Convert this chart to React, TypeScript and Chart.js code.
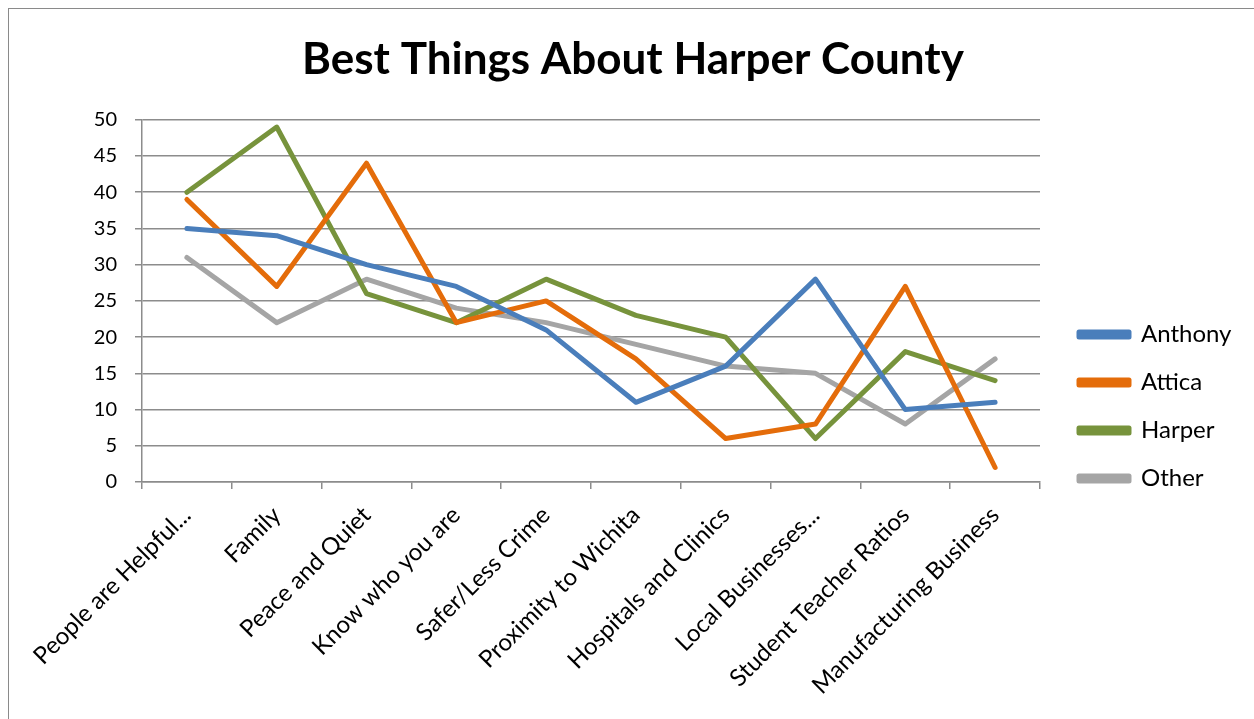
import React, { useEffect, useRef } from "react";
import { Chart, registerables } from "chart.js";

Chart.register(...registerables);

const categories = [
  "People are Helpful...",
  "Family",
  "Peace and Quiet",
  "Know who you are",
  "Safer/Less Crime",
  "Proximity to Wichita",
  "Hospitals and Clinics",
  "Local Businesses...",
  "Student Teacher Ratios",
  "Manufacturing Business",
];

const anthony = [35, 34, 30, 27, 21, 11, 16, 28, 10, 11];
const attica = [39, 27, 44, 22, 25, 17, 6, 8, 27, 2];
const harper = [40, 49, 26, 22, 28, 23, 20, 6, 18, 14];
const other = [31, 22, 28, 24, 22, 19, 16, 15, 8, 17];

const seriesNames = ["Anthony", "Attica", "Harper", "Other"];
const seriesColors = ["#4a7ebb", "#e46c0a", "#77933c", "#a5a5a5"];

const FONT = "Lato, 'Open Sans', sans-serif";
const GRID = "#8c8c8c";

const legendPlacer = {
  id: "legendPlacer",
  beforeLayout(chart: any) {
    const lg = chart.legend;
    if (lg && !lg.__patched) {
      const origFit = Object.getPrototypeOf(lg).fit;
      lg.fit = function () {
        origFit.call(this);
        this.width = 214;
      };
      lg.__patched = true;
    }
  },
  afterLayout(chart: any) {
    const lg = chart.legend;
    if (lg) {
      lg.left += 15;
      lg.right += 15;
      lg.top += 47;
      lg.bottom += 47;
    }
  },
};

export default function App() {
  const ref = useRef<HTMLCanvasElement | null>(null);

  useEffect(() => {
    if (!ref.current) return;
    const values = [anthony, attica, harper, other];
    const chart = new Chart(ref.current, {
      type: "line",
      data: {
        labels: categories,
        datasets: values.map((v, i) => ({
          label: seriesNames[i],
          data: v,
          borderColor: seriesColors[i],
          backgroundColor: seriesColors[i],
          borderWidth: 5,
          pointRadius: 0,
          pointHoverRadius: 0,
          tension: 0,
          borderJoinStyle: "round" as const,
          borderCapStyle: "round" as const,
        })),
      },
      plugins: [legendPlacer],
      options: {
        animation: false,
        responsive: false,
        maintainAspectRatio: false,
        layout: { padding: { left: 12, right: 0, top: 0, bottom: 0 } },
        plugins: {
          title: {
            display: true,
            text: "Best Things About Harper County",
            color: "#000",
            font: { family: FONT, size: 44, weight: "bold" },
            padding: { top: 33, bottom: 34 },
          },
          legend: {
            position: "right",
            align: "center",
            labels: {
              color: "#000",
              font: { family: FONT, size: 24 },
              boxWidth: 50,
              boxHeight: 5,
              padding: 24,
            },
          },
          tooltip: { enabled: false },
        },
        scales: {
          x: {
            type: "category",
            offset: true,
            grid: {
              offset: true,
              drawOnChartArea: false,
              drawTicks: true,
              tickLength: 7,
              color: GRID,
              lineWidth: 1.5,
            },
            border: { color: GRID, width: 1.5 },
            ticks: {
              color: "#000",
              font: { family: FONT, size: 24 },
              minRotation: 45,
              maxRotation: 45,
              autoSkip: false,
              padding: 12,
            },
            afterFit: (scale: any) => {
              scale.height = 237;
            },
          },
          y: {
            min: 0,
            max: 50,
            ticks: {
              stepSize: 5,
              color: "#000",
              font: { family: FONT, size: 20 },
              padding: 18,
            },
            grid: {
              color: GRID,
              lineWidth: 1.5,
              tickLength: 7,
            },
            border: { color: GRID, width: 1.5 },
            afterFit: (scale: any) => {
              scale.width = 130;
            },
          },
        },
      },
    });
    return () => chart.destroy();
  }, []);

  return (
    <div
      style={{
        position: "fixed",
        left: 0,
        top: 0,
        width: 1254,
        height: 719,
        overflow: "hidden",
        background: "#fff",
      }}
    >
      <canvas ref={ref} width={1254} height={719} style={{ display: "block" }} />
      <div
        style={{
          position: "absolute",
          left: 8,
          top: 8,
          width: 2000,
          height: 2000,
          border: "1.5px solid #8a8a8a",
          pointerEvents: "none",
        }}
      />
    </div>
  );
}
